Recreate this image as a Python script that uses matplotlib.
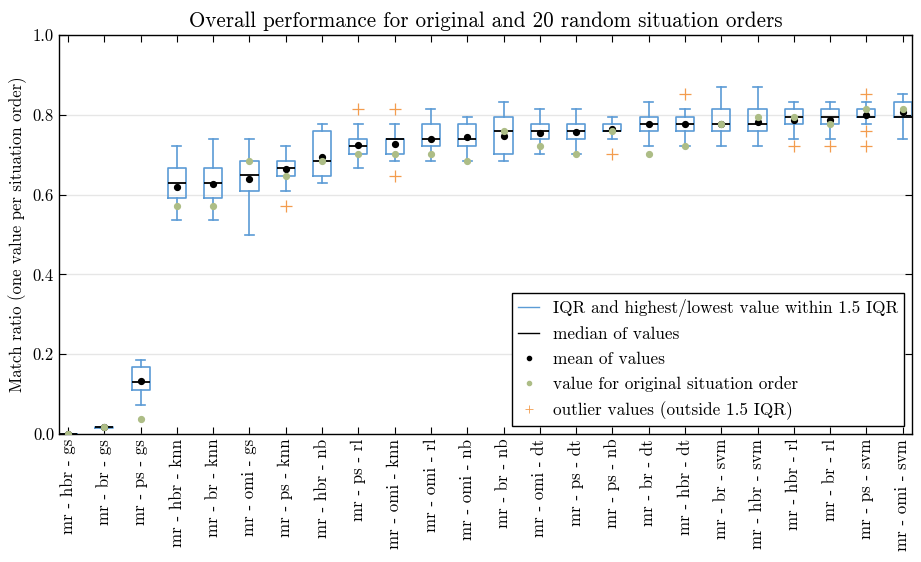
import matplotlib
matplotlib.use("Agg")
import matplotlib.pyplot as plt
from matplotlib.lines import Line2D

plt.rcParams['font.family'] = ['cmr10', 'DejaVu Serif']
plt.rcParams['axes.formatter.use_mathtext'] = True
plt.rcParams['mathtext.fontset'] = 'cm'

labels = ["mr - hbr - gs", "mr - br - gs", "mr - ps - gs", "mr - hbr - knn", "mr - br - knn",
          "mr - omi - gs", "mr - ps - knn", "mr - hbr - nb", "mr - ps - rl", "mr - omi - knn",
          "mr - omi - rl", "mr - omi - nb", "mr - br - nb", "mr - omi - dt", "mr - ps - dt",
          "mr - ps - nb", "mr - br - dt", "mr - hbr - dt", "mr - br - svm", "mr - hbr - svm",
          "mr - hbr - rl", "mr - br - rl", "mr - ps - svm", "mr - omi - svm"]

whislo = [0.0, 0.016, 0.072, 0.537, 0.537, 0.499, 0.609, 0.629, 0.667, 0.684, 0.684, 0.684,
          0.684, 0.702, 0.702, 0.740, 0.722, 0.722, 0.722, 0.722, 0.740, 0.740, 0.777, 0.740]
q1 = [0.0, 0.016, 0.109, 0.592, 0.592, 0.609, 0.647, 0.647, 0.702, 0.702, 0.722, 0.722,
      0.702, 0.740, 0.740, 0.759, 0.759, 0.759, 0.759, 0.759, 0.777, 0.777, 0.794, 0.794]
medians = [0.0, 0.017, 0.130, 0.629, 0.629, 0.648, 0.667, 0.684, 0.722, 0.740, 0.740, 0.740,
           0.759, 0.759, 0.759, 0.759, 0.777, 0.777, 0.777, 0.777, 0.794, 0.794, 0.794, 0.794]
q3 = [0.0, 0.018, 0.167, 0.667, 0.667, 0.683, 0.683, 0.759, 0.740, 0.740, 0.777, 0.777,
      0.794, 0.777, 0.777, 0.777, 0.794, 0.794, 0.814, 0.814, 0.814, 0.814, 0.814, 0.833]
whishi = [0.0, 0.018, 0.185, 0.722, 0.740, 0.740, 0.722, 0.777, 0.777, 0.777, 0.814, 0.794,
          0.833, 0.814, 0.814, 0.794, 0.833, 0.814, 0.869, 0.869, 0.833, 0.833, 0.833, 0.853]
means = [0.0, 0.017, 0.132, 0.619, 0.627, 0.639, 0.664, 0.695, 0.725, 0.727, 0.739, 0.745,
         0.747, 0.754, 0.757, 0.765, 0.777, 0.777, 0.778, 0.783, 0.786, 0.788, 0.799, 0.806]
original = [0.0, 0.017, 0.037, 0.572, 0.572, 0.684, 0.647, 0.684, 0.702, 0.702, 0.702, 0.684,
            0.759, 0.722, 0.702, 0.760, 0.702, 0.722, 0.777, 0.794, 0.794, 0.777, 0.814, 0.814]
outliers = [[], [], [], [], [], [], [0.572], [], [0.814], [0.814, 0.647], [], [],
            [], [], [], [0.702], [], [0.853], [], [], [0.722], [0.722], [0.853, 0.759, 0.722], []]

BLUE = '#5b9bd5'
GREEN = '#adbd86'
ORANGE = '#f39c4e'

fig = plt.figure(figsize=(9.21, 5.62), dpi=100)
ax = fig.add_axes([0.064, 0.2278, 0.926, 0.7099])

stats = []
for i in range(len(labels)):
    stats.append(dict(label=labels[i], whislo=whislo[i], q1=q1[i], med=medians[i],
                      q3=q3[i], whishi=whishi[i], mean=means[i], fliers=outliers[i]))

positions = list(range(len(labels)))
ax.bxp(stats, positions=positions, widths=0.5, capwidths=0.25, showmeans=False,
       showfliers=True,
       boxprops=dict(color=BLUE, linewidth=1.2),
       whiskerprops=dict(color=BLUE, linewidth=1.2),
       capprops=dict(color=BLUE, linewidth=1.2),
       medianprops=dict(color='black', linewidth=1.3),
       flierprops=dict(marker='+', markeredgecolor=ORANGE, markersize=8, markeredgewidth=0.9,
                       linestyle='none'))

ax.plot(positions, means, linestyle='none', marker='o', color='black', markersize=4.2, zorder=4)
ax.plot(positions, original, linestyle='none', marker='o', color=GREEN, markersize=4.2, zorder=5)

ax.set_xlim(-0.25, len(labels) - 0.75)
ax.set_ylim(0, 1.0)
ax.set_yticks([0.0, 0.2, 0.4, 0.6, 0.8, 1.0])
ax.set_yticklabels(['0.0', '0.2', '0.4', '0.6', '0.8', '1.0'])
ax.set_xticks(positions)
ax.set_xticklabels(labels, rotation=90, fontsize=12.2)
ax.tick_params(axis='y', labelsize=12)
ax.tick_params(direction='in', top=True, right=True, length=5, width=0.8)
ax.yaxis.grid(True, color='#e6e6e6', linewidth=1)
ax.set_axisbelow(True)
for s in ax.spines.values():
    s.set_linewidth(1.0)

ax.set_title('Overall performance for original and 20 random situation orders', fontsize=15.2, pad=6)
ax.set_ylabel('Match ratio (one value per situation order)', fontsize=12)

handles = [Line2D([], [], color=BLUE, linewidth=1),
           Line2D([], [], color='black', linewidth=1),
           Line2D([], [], color='black', marker='o', linestyle='none', markersize=3),
           Line2D([], [], color=GREEN, marker='o', linestyle='none', markersize=3),
           Line2D([], [], color=ORANGE, marker='+', linestyle='none', markersize=6, markeredgewidth=0.6)]
leg_labels = ['IQR and highest/lowest value within 1.5 IQR', 'median of values', 'mean of values',
              'value for original situation order', 'outlier values (outside 1.5 IQR)']
leg = ax.legend(handles, leg_labels, loc='lower right', fontsize=12.4, fancybox=False,
                framealpha=1, edgecolor='black', handlelength=1.2, borderaxespad=0.45,
                labelspacing=0.55, borderpad=0.35)
leg.get_frame().set_linewidth(1.0)

fig.savefig('out.png', dpi=100)
